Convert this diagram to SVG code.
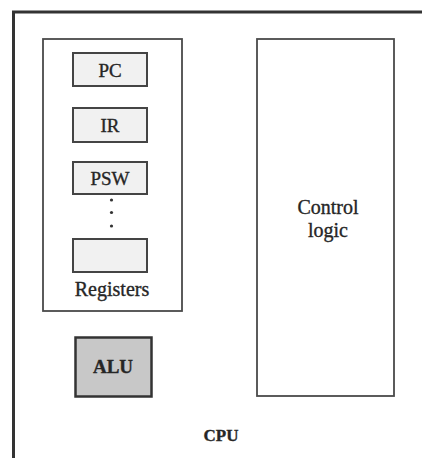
<svg xmlns="http://www.w3.org/2000/svg" width="422" height="458" viewBox="0 0 422 458">
<style>
text{font-family:"Liberation Serif","Times New Roman",serif;fill:#262626;stroke:#262626;stroke-width:0.35;text-anchor:middle}
.reg{fill:#f1f1f1;stroke:#444;stroke-width:2}
.box{fill:none;stroke:#4a4a4a;stroke-width:1.8}
.t19{font-size:19px}
.t20{font-size:20px}
</style>
<rect width="422" height="458" fill="#ffffff"/>
<g id="cpu">
<path d="M13.5 460 V12 H424" fill="none" stroke="#333" stroke-width="3"/>
<text x="221" y="441" font-size="17" font-weight="bold">CPU</text>
</g>
<g id="registers">
<rect class="box" x="43" y="39" width="139" height="272"/>
<text class="t20" x="112" y="296">Registers</text>
</g>
<g id="pc">
<rect class="reg" x="73" y="53" width="74" height="33"/>
<text class="t19" x="110" y="76.5">PC</text>
</g>
<g id="ir">
<rect class="reg" x="73" y="108" width="74" height="34"/>
<text class="t19" x="110" y="131.5">IR</text>
</g>
<g id="psw">
<rect class="reg" x="73" y="162" width="74" height="32"/>
<text class="t19" x="110" y="185">PSW</text>
</g>
<g id="dots" fill="#333">
<circle cx="111.5" cy="200" r="1.6"/>
<circle cx="111.5" cy="212.5" r="1.6"/>
<circle cx="111.5" cy="226" r="1.6"/>
</g>
<g id="reg-blank">
<rect class="reg" x="73" y="239" width="74" height="33"/>
</g>
<g id="alu">
<rect x="75.5" y="337.5" width="76" height="59" fill="#c8c8c8" stroke="#333" stroke-width="2.5"/>
<text x="113" y="373" font-size="19" font-weight="bold">ALU</text>
</g>
<g id="control-logic">
<rect class="box" x="257" y="39" width="137" height="357"/>
<text class="t20" x="328" y="214">Control</text>
<text class="t20" x="328" y="237">logic</text>
</g>
<g id="connectors"/>
</svg>
